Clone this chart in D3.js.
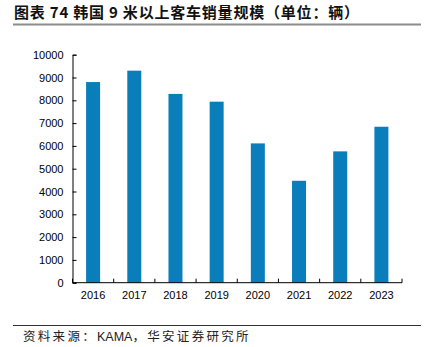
<!DOCTYPE html>
<html>
<head>
<meta charset="utf-8">
<script src="https://cdn.jsdelivr.net/npm/d3@7"></script>
<style>
  body { margin: 0; background: #fff; }
  text { font-family: "Liberation Sans", Arial, sans-serif; }
  .cn { font-family: "Noto Sans CJK SC", "Liberation Sans", sans-serif; white-space: pre; }
</style>
</head>
<body>
<script>
//data
const years = ["2016", "2017", "2018", "2019", "2020", "2021", "2022", "2023"];
const sales = [8800, 9300, 8280, 7940, 6110, 4470, 5760, 6840];
const yTicks = [0, 1000, 2000, 3000, 4000, 5000, 6000, 7000, 8000, 9000, 10000];

const width = 433;
const height = 347;
const plotLeft = 72.5, plotRight = 402, plotTop = 54.7, plotBottom = 282.7;

const svg = d3.select("body")
    .append("svg")
    .attr("width", width)
    .attr("height", height);

//title
svg.append("text")
    .attr("class", "cn")
    .attr("x", 14)
    .attr("y", 18)
    .attr("font-size", 15)
    .attr("font-weight", "bold")
    .attr("fill", "#111")
    .attr("textLength", 345)
    .attr("lengthAdjust", "spacing")
    .text("图表 74 韩国 9 米以上客车销量规模（单位：辆）");

svg.append("line")
    .attr("x1", 13).attr("x2", 421)
    .attr("y1", 24.5).attr("y2", 24.5)
    .attr("stroke", "#8c8c8c")
    .attr("stroke-width", 2);

//scales
const xScale = d3.scaleBand()
    .domain(years)
    .range([plotLeft, plotRight])
    .paddingInner(0.66)
    .paddingOuter(0.33);

const yScale = d3.scaleLinear()
    .domain([0, 10000])
    .range([plotBottom, plotTop]);

//bars
svg.selectAll("rect.bar")
    .data(years)
    .enter()
    .append("rect")
    .attr("class", "bar")
    .attr("x", d => xScale(d))
    .attr("y", (d, i) => yScale(sales[i]))
    .attr("width", xScale.bandwidth())
    .attr("height", (d, i) => plotBottom - yScale(sales[i]))
    .attr("fill", "#0a7ebb");

//axes
const leftAxis = d3.axisLeft(yScale)
    .tickValues(yTicks)
    .tickSize(-4)
    .tickPadding(9)
    .tickFormat(d3.format("d"));

const gy = svg.append("g")
    .attr("transform", "translate(" + plotLeft + ",0)")
    .call(leftAxis);
gy.select(".domain").attr("stroke", "#000");
gy.selectAll(".tick line").attr("stroke", "#000");
gy.selectAll("text").attr("font-size", 11).attr("fill", "#000");

const bottomAxis = d3.axisBottom(xScale)
    .tickSize(0)
    .tickPadding(9);

const gx = svg.append("g")
    .attr("transform", "translate(0," + plotBottom + ")")
    .call(bottomAxis);
gx.select(".domain").remove();
gx.selectAll("text").attr("font-size", 11).attr("fill", "#000");

svg.append("line")
    .attr("x1", plotLeft).attr("x2", plotRight)
    .attr("y1", plotBottom).attr("y2", plotBottom)
    .attr("stroke", "#000");

//boundary ticks between categories
const bounds = d3.range(years.length + 1).map(i => plotLeft + i * (plotRight - plotLeft) / years.length);
svg.selectAll("line.xtick")
    .data(bounds)
    .enter()
    .append("line")
    .attr("class", "xtick")
    .attr("x1", d => d).attr("x2", d => d)
    .attr("y1", plotBottom).attr("y2", plotBottom - 4)
    .attr("stroke", "#000");

//footer
svg.append("line")
    .attr("x1", 13).attr("x2", 421)
    .attr("y1", 325.5).attr("y2", 325.5)
    .attr("stroke", "#333")
    .attr("stroke-width", 1);

const source = svg.append("text")
    .attr("class", "cn")
    .attr("x", 23)
    .attr("y", 341)
    .attr("font-size", 12.5)
    .attr("fill", "#222");
source.append("tspan").attr("letter-spacing", 2.3).text("资料来源：");
source.append("tspan").attr("font-family", "Liberation Sans, Arial, sans-serif").text("KAMA");
source.append("tspan").attr("letter-spacing", 2.3).text("，华安证券研究所");
</script>
</body>
</html>
